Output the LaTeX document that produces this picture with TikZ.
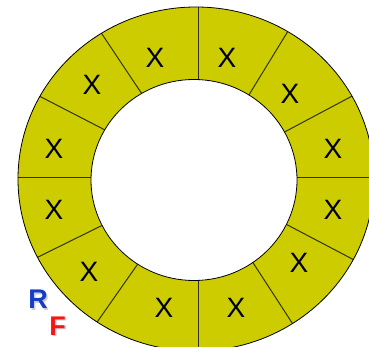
\documentclass[tikz,border=0pt]{standalone}
\usepackage{fontspec}
\setmainfont{Liberation Sans}
\definecolor{ringyellow}{RGB}{204,204,0}
\definecolor{rblue}{RGB}{20,60,200}
\definecolor{fred}{RGB}{250,20,20}
\tikzset{
  ring/.style  = {fill=ringyellow, draw=black, line width=0.8pt},
  spoke/.style = {draw=black!75!ringyellow, line width=1pt},
  cell/.style  = {font=\fontsize{28}{28}\selectfont, inner sep=0pt},
  axis/.style  = {font=\bfseries\fontsize{27}{27}\selectfont, inner sep=0pt},
  shade/.style = {axis, text=black!20} % soft drop shadow behind R and F
}

\begin{document}
\begin{tikzpicture}[x=1pt,y=-1pt]
\useasboundingbox (0,0) rectangle (369,347);
\coordinate (O) at (198,178); % spokes meet here
\fill[ringyellow] (196,179) ellipse [x radius=178, y radius=172];
\begin{scope}
  \clip (196,179) ellipse [x radius=178, y radius=172];
  \foreach \a in {0,28,58.5,90,123.7,152.7,180,206.3,235,270,303,332.3}
    \draw[spoke] (O) -- ++({-\a}:260);
\end{scope}
\draw[ring, fill=none] (196,179) ellipse [x radius=178, y radius=172]; % outer rim
\draw[ring, fill=white] (194,180) ellipse [x radius=103, y radius=100.5]; % hole
% one X per cell
\foreach \p [count=\i] in {(155,58),(227,58),(290,94),(333,149),(333,210),(299,263),
                           (236,308),(164,308),(89,272),(54,210),(54,149),(92,85)}
  \node[cell] (x\i) at \p {X};
\node[shade] at (39.5,301) {R};
\node[axis, text=rblue] (r) at (38,299.5) {R};
\node[shade] at (59,327.5) {F};
\node[axis, text=fred] (f) at (57.5,326) {F};
\end{tikzpicture}
\end{document}
